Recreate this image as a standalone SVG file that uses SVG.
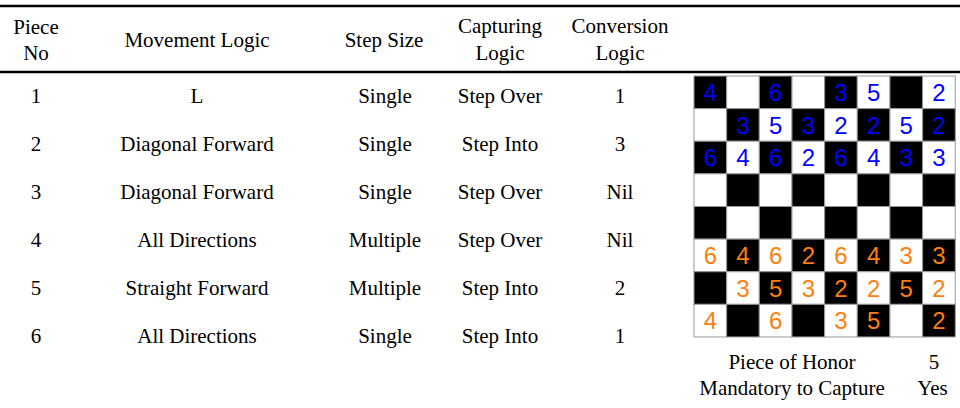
<svg xmlns="http://www.w3.org/2000/svg" width="960" height="408" viewBox="0 0 960 408">
<style>
.t{font-family:"Liberation Serif","Times New Roman",serif;font-size:21px;text-anchor:middle;fill:#000}
.rule{stroke:#000;stroke-width:2.4}
.b{fill:#000;stroke:#999;stroke-width:1}
.w{fill:#fff;stroke:#999;stroke-width:1}
.n{font-family:"Liberation Sans",Arial,sans-serif;font-size:24px;text-anchor:middle}
.blue{fill:#0000ff}
.org{fill:#ff7f0e}
</style>
<rect width="960" height="408" fill="#fff"/>
<g id="rules">
<line class="rule" x1="0" y1="6" x2="960" y2="6"/>
<line class="rule" x1="0" y1="72" x2="960" y2="72"/>
</g>
<g id="header">
<text class="t" x="36" y="33.5">Piece</text>
<text class="t" x="36" y="59.5">No</text>
<text class="t" x="197" y="47">Movement Logic</text>
<text class="t" x="384" y="47">Step Size</text>
<text class="t" x="500" y="33">Capturing</text>
<text class="t" x="500" y="59.5">Logic</text>
<text class="t" x="620" y="33">Conversion</text>
<text class="t" x="620" y="59.5">Logic</text>
</g>
<g id="rows">
<g id="row1"><text class="t" x="36" y="102.5">1</text><text class="t" x="197" y="102.5">L</text><text class="t" x="385" y="102.5">Single</text><text class="t" x="500" y="102.5">Step Over</text><text class="t" x="620" y="102.5">1</text></g>
<g id="row2"><text class="t" x="36" y="150.5">2</text><text class="t" x="197" y="150.5">Diagonal Forward</text><text class="t" x="385" y="150.5">Single</text><text class="t" x="500" y="150.5">Step Into</text><text class="t" x="620" y="150.5">3</text></g>
<g id="row3"><text class="t" x="36" y="198.5">3</text><text class="t" x="197" y="198.5">Diagonal Forward</text><text class="t" x="385" y="198.5">Single</text><text class="t" x="500" y="198.5">Step Over</text><text class="t" x="620" y="198.5">Nil</text></g>
<g id="row4"><text class="t" x="36" y="246.5">4</text><text class="t" x="197" y="246.5">All Directions</text><text class="t" x="385" y="246.5">Multiple</text><text class="t" x="500" y="246.5">Step Over</text><text class="t" x="620" y="246.5">Nil</text></g>
<g id="row5"><text class="t" x="36" y="294.5">5</text><text class="t" x="197" y="294.5">Straight Forward</text><text class="t" x="385" y="294.5">Multiple</text><text class="t" x="500" y="294.5">Step Into</text><text class="t" x="620" y="294.5">2</text></g>
<g id="row6"><text class="t" x="36" y="342.5">6</text><text class="t" x="197" y="342.5">All Directions</text><text class="t" x="385" y="342.5">Single</text><text class="t" x="500" y="342.5">Step Into</text><text class="t" x="620" y="342.5">1</text></g>
</g>
<g id="board">
<g id="squares">
<rect class="b" x="694" y="76" width="32.66" height="32.62"/><rect class="w" x="726.66" y="76" width="32.66" height="32.62"/><rect class="b" x="759.32" y="76" width="32.66" height="32.62"/><rect class="w" x="791.98" y="76" width="32.66" height="32.62"/><rect class="b" x="824.64" y="76" width="32.66" height="32.62"/><rect class="w" x="857.3" y="76" width="32.66" height="32.62"/><rect class="b" x="889.96" y="76" width="32.66" height="32.62"/><rect class="w" x="922.62" y="76" width="32.66" height="32.62"/>
<rect class="w" x="694" y="108.62" width="32.66" height="32.62"/><rect class="b" x="726.66" y="108.62" width="32.66" height="32.62"/><rect class="w" x="759.32" y="108.62" width="32.66" height="32.62"/><rect class="b" x="791.98" y="108.62" width="32.66" height="32.62"/><rect class="w" x="824.64" y="108.62" width="32.66" height="32.62"/><rect class="b" x="857.3" y="108.62" width="32.66" height="32.62"/><rect class="w" x="889.96" y="108.62" width="32.66" height="32.62"/><rect class="b" x="922.62" y="108.62" width="32.66" height="32.62"/>
<rect class="b" x="694" y="141.24" width="32.66" height="32.62"/><rect class="w" x="726.66" y="141.24" width="32.66" height="32.62"/><rect class="b" x="759.32" y="141.24" width="32.66" height="32.62"/><rect class="w" x="791.98" y="141.24" width="32.66" height="32.62"/><rect class="b" x="824.64" y="141.24" width="32.66" height="32.62"/><rect class="w" x="857.3" y="141.24" width="32.66" height="32.62"/><rect class="b" x="889.96" y="141.24" width="32.66" height="32.62"/><rect class="w" x="922.62" y="141.24" width="32.66" height="32.62"/>
<rect class="w" x="694" y="173.86" width="32.66" height="32.62"/><rect class="b" x="726.66" y="173.86" width="32.66" height="32.62"/><rect class="w" x="759.32" y="173.86" width="32.66" height="32.62"/><rect class="b" x="791.98" y="173.86" width="32.66" height="32.62"/><rect class="w" x="824.64" y="173.86" width="32.66" height="32.62"/><rect class="b" x="857.3" y="173.86" width="32.66" height="32.62"/><rect class="w" x="889.96" y="173.86" width="32.66" height="32.62"/><rect class="b" x="922.62" y="173.86" width="32.66" height="32.62"/>
<rect class="b" x="694" y="206.48" width="32.66" height="32.62"/><rect class="w" x="726.66" y="206.48" width="32.66" height="32.62"/><rect class="b" x="759.32" y="206.48" width="32.66" height="32.62"/><rect class="w" x="791.98" y="206.48" width="32.66" height="32.62"/><rect class="b" x="824.64" y="206.48" width="32.66" height="32.62"/><rect class="w" x="857.3" y="206.48" width="32.66" height="32.62"/><rect class="b" x="889.96" y="206.48" width="32.66" height="32.62"/><rect class="w" x="922.62" y="206.48" width="32.66" height="32.62"/>
<rect class="w" x="694" y="239.1" width="32.66" height="32.62"/><rect class="b" x="726.66" y="239.1" width="32.66" height="32.62"/><rect class="w" x="759.32" y="239.1" width="32.66" height="32.62"/><rect class="b" x="791.98" y="239.1" width="32.66" height="32.62"/><rect class="w" x="824.64" y="239.1" width="32.66" height="32.62"/><rect class="b" x="857.3" y="239.1" width="32.66" height="32.62"/><rect class="w" x="889.96" y="239.1" width="32.66" height="32.62"/><rect class="b" x="922.62" y="239.1" width="32.66" height="32.62"/>
<rect class="b" x="694" y="271.72" width="32.66" height="32.62"/><rect class="w" x="726.66" y="271.72" width="32.66" height="32.62"/><rect class="b" x="759.32" y="271.72" width="32.66" height="32.62"/><rect class="w" x="791.98" y="271.72" width="32.66" height="32.62"/><rect class="b" x="824.64" y="271.72" width="32.66" height="32.62"/><rect class="w" x="857.3" y="271.72" width="32.66" height="32.62"/><rect class="b" x="889.96" y="271.72" width="32.66" height="32.62"/><rect class="w" x="922.62" y="271.72" width="32.66" height="32.62"/>
<rect class="w" x="694" y="304.34" width="32.66" height="32.62"/><rect class="b" x="726.66" y="304.34" width="32.66" height="32.62"/><rect class="w" x="759.32" y="304.34" width="32.66" height="32.62"/><rect class="b" x="791.98" y="304.34" width="32.66" height="32.62"/><rect class="w" x="824.64" y="304.34" width="32.66" height="32.62"/><rect class="b" x="857.3" y="304.34" width="32.66" height="32.62"/><rect class="w" x="889.96" y="304.34" width="32.66" height="32.62"/><rect class="b" x="922.62" y="304.34" width="32.66" height="32.62"/>
</g>
<g id="blue-pieces" class="n blue">
<text x="710.33" y="100.9">4</text><text x="775.65" y="100.9">6</text><text x="840.97" y="100.9">3</text><text x="873.63" y="100.9">5</text><text x="938.95" y="100.9">2</text>
<text x="742.99" y="133.5">3</text><text x="775.65" y="133.5">5</text><text x="808.31" y="133.5">3</text><text x="840.97" y="133.5">2</text><text x="873.63" y="133.5">2</text><text x="906.29" y="133.5">5</text><text x="938.95" y="133.5">2</text>
<text x="710.33" y="166.2">6</text><text x="742.99" y="166.2">4</text><text x="775.65" y="166.2">6</text><text x="808.31" y="166.2">2</text><text x="840.97" y="166.2">6</text><text x="873.63" y="166.2">4</text><text x="906.29" y="166.2">3</text><text x="938.95" y="166.2">3</text>
</g>
<g id="orange-pieces" class="n org">
<text x="710.33" y="264">6</text><text x="742.99" y="264">4</text><text x="775.65" y="264">6</text><text x="808.31" y="264">2</text><text x="840.97" y="264">6</text><text x="873.63" y="264">4</text><text x="906.29" y="264">3</text><text x="938.95" y="264">3</text>
<text x="742.99" y="296.6">3</text><text x="775.65" y="296.6">5</text><text x="808.31" y="296.6">3</text><text x="840.97" y="296.6">2</text><text x="873.63" y="296.6">2</text><text x="906.29" y="296.6">5</text><text x="938.95" y="296.6">2</text>
<text x="710.33" y="329.3">4</text><text x="775.65" y="329.3">6</text><text x="840.97" y="329.3">3</text><text x="873.63" y="329.3">5</text><text x="938.95" y="329.3">2</text>
</g>
</g>
<g id="footer">
<text class="t" x="792" y="369">Piece of Honor</text>
<text class="t" x="934" y="369">5</text>
<text class="t" x="792" y="395">Mandatory to Capture</text>
<text class="t" x="932.5" y="395">Yes</text>
</g>
</svg>
